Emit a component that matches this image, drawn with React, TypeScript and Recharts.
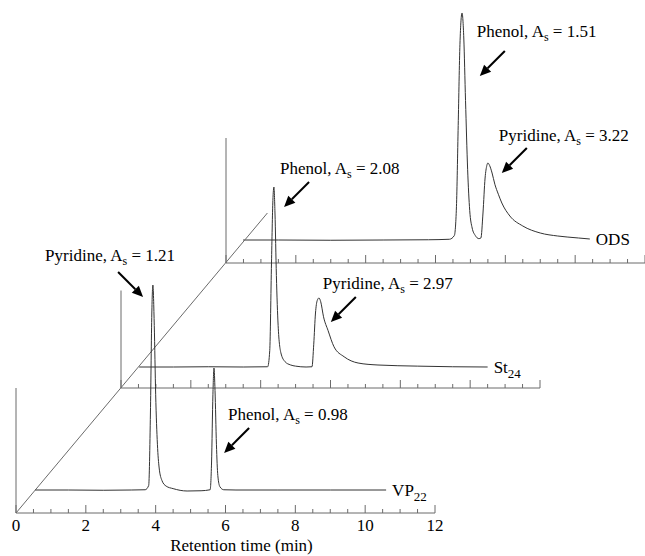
import React from 'react';
import { LineChart, Line, XAxis, YAxis, ReferenceLine, ReferenceDot } from 'recharts';

// retention time (min) / detector signal (mAU above each trace's own axis)
const VP22_TIME = [0.55, 1.5, 2.5, 3.3, 3.7, 3.8, 3.85, 3.89, 3.92, 3.96, 4.0, 4.05, 4.1, 4.18, 4.3, 4.5, 4.9, 5.3, 5.56, 5.6, 5.64, 5.67, 5.7, 5.74, 5.78, 5.84, 5.95, 6.3, 7.5, 9.0, 10.6];
const VP22_SIGNAL = [18.4, 18.4, 18.2, 18.4, 18.6, 22, 80, 160, 182.4, 150, 95, 55, 36, 26, 21.5, 19.5, 17.6, 17.8, 18.6, 40, 95, 116, 98, 55, 30, 21, 18.6, 18.4, 18.4, 18.4, 18.4];

const ST24_TIME = [0.52, 1.5, 2.5, 3.5, 4.2, 4.26, 4.31, 4.35, 4.38, 4.41, 4.45, 4.5, 4.58, 4.7, 4.85, 5.0, 5.3, 5.47, 5.52, 5.57, 5.62, 5.67, 5.72, 5.8, 5.93, 6.1, 6.39, 6.79, 7.36, 8.5, 9.5, 10.5];
const ST24_SIGNAL = [16.8, 16.8, 17.0, 16.8, 17, 30, 100, 150, 160.8, 140, 90, 50, 28, 21, 18.5, 17.5, 16.8, 17, 35, 60, 70, 72, 69, 57, 46, 33, 25, 20, 18.4, 17.5, 17.0, 16.8];

const ODS_TIME = [0.49, 1.5, 3.0, 4.5, 5.8, 6.4, 6.54, 6.6, 6.65, 6.7, 6.76, 6.81, 6.86, 6.92, 6.98, 7.05, 7.14, 7.24, 7.3, 7.36, 7.42, 7.47, 7.5, 7.55, 7.62, 7.7, 7.8, 7.9, 8.13, 8.5, 9.0, 9.5, 9.77, 10.1, 10.42];
const ODS_SIGNAL = [18.4, 18.4, 18.2, 18.4, 18.6, 19, 22, 45, 110, 175, 200, 180, 130, 75, 42, 28, 22, 19.5, 20, 40, 68, 78, 80, 78, 72, 63, 55, 48, 37.6, 29.6, 24, 21.6, 20.8, 20, 19.2];

const X_TICKS = [0, 0.5, 1, 1.5, 2, 2.5, 3, 3.5, 4, 4.5, 5, 5.5, 6, 6.5, 7, 7.5, 8, 8.5, 9, 9.5, 10, 10.5, 11, 11.5, 12];
const X_LABELS = [0, 2, 4, 6, 8, 10, 12];

// peak labels: compound, asymmetry factor, arrow tip (min, mAU)
const VP22_NOTES = [
  { compound: 'Pyridine', as: '1.21', tip: [3.64, 172.8], dir: 'right', textDx: -73, textDy: -17 },
  { compound: 'Phenol', as: '0.98', tip: [5.96, 48], dir: 'left', textDx: -21, textDy: -14 },
];
const ST24_NOTES = [
  { compound: 'Phenol', as: '2.08', tip: [4.67, 144.8], dir: 'left', textDx: -29, textDy: -14 },
  { compound: 'Pyridine', as: '2.97', tip: [6.01, 52.8], dir: 'left', textDx: -33, textDy: -14 },
];
const ODS_NOTES = [
  { compound: 'Phenol', as: '1.51', tip: [7.27, 149.6], dir: 'left', textDx: -28, textDy: -20 },
  { compound: 'Pyridine', as: '3.22', tip: [7.9, 72], dir: 'left', textDx: -28, textDy: -13 },
];

const FONT = "'Liberation Serif', 'Times New Roman', Times, serif";
const TEXT_STYLE = { fontFamily: FONT, fontSize: 17, fill: '#000' };
const AXIS_COLOR = '#6b6b6b';
const TRACE_COLOR = '#333';

const PX_PER_MIN = 419 / 12;
const PX_PER_UNIT = 1.25;
const PLOT_H = 310;
const Y_MAX = PLOT_H / PX_PER_UNIT;
const MARGIN = { top: 5, right: 35, bottom: 0, left: 16 };
const CHART_W = 470;
const AXIS_H = 44;
const CHART_H = MARGIN.top + PLOT_H + AXIS_H;
const BASE_TOP = 513 - PLOT_H - MARGIN.top;
// each trace is shifted back along the depth axis by 3 min / 100 mAU
const DEPTH_MIN = 3;
const DEPTH_UNITS = 100;

const TRACES = [
  { id: 'ods', name: 'ODS', sub: '', time: ODS_TIME, signal: ODS_SIGNAL, notes: ODS_NOTES, depth: 2, yAxisLen: 100 },
  { id: 'st24', name: 'St', sub: '24', time: ST24_TIME, signal: ST24_SIGNAL, notes: ST24_NOTES, depth: 1, yAxisLen: 78 },
  { id: 'vp22', name: 'VP', sub: '22', time: VP22_TIME, signal: VP22_SIGNAL, notes: VP22_NOTES, depth: 0, yAxisLen: 100 },
];

const makeTick = (showLabels: boolean) => (props: any) => {
  const { x, y, payload } = props;
  const major = X_LABELS.includes(payload.value);
  return (
    <g>
      <line x1={x} x2={x} y1={y} y2={y - (major ? 8 : 4)} stroke={AXIS_COLOR} />
      {showLabels && major && (
        <text x={x} y={y + 18} textAnchor="middle" style={TEXT_STYLE}>
          {payload.value}
        </text>
      )}
    </g>
  );
};

const renderTitle = (props: any) => {
  const vb = props.viewBox;
  return (
    <text x={vb.x + vb.width / 2 + 16} y={vb.y + 38} textAnchor="middle" style={TEXT_STYLE}>
      Retention time (min)
    </text>
  );
};

function Callout({ cx, cy, note }: any) {
  const tailX = cx + (note.dir === 'left' ? 25 : -25);
  const tailY = cy - 25;
  const len = Math.hypot(cx - tailX, cy - tailY);
  const ux = (cx - tailX) / len;
  const uy = (cy - tailY) / len;
  const bx = cx - ux * 11;
  const by = cy - uy * 11;
  const px = -uy * 5;
  const py = ux * 5;
  return (
    <g>
      <line x1={tailX} y1={tailY} x2={bx} y2={by} stroke="#000" strokeWidth={2} />
      <polygon points={`${cx},${cy} ${bx + px},${by + py} ${bx - px},${by - py}`} fill="#000" />
      <text x={tailX + note.textDx} y={tailY + note.textDy + 6} style={{ ...TEXT_STYLE, whiteSpace: 'pre' }}>
        {`${note.compound}, A`}
        <tspan dy={4} style={{ fontSize: 12 }}>s</tspan>
        <tspan dy={-4}>{` = ${note.as}`}</tspan>
      </text>
    </g>
  );
}

function TraceChart({ trace }: any) {
  const data = trace.time.map((t: number, i: number) => ({ t, v: trace.signal[i] }));
  const last = data[data.length - 1];
  const bottom = trace.depth === 0;
  return (
    <div style={{ position: 'absolute', left: trace.depth * DEPTH_MIN * PX_PER_MIN, top: BASE_TOP - trace.depth * DEPTH_UNITS * PX_PER_UNIT }}>
      <LineChart width={CHART_W} height={CHART_H} data={data} margin={MARGIN} style={{ overflow: 'visible' }}>
        <XAxis
          dataKey="t"
          type="number"
          domain={[0, 12]}
          ticks={X_TICKS}
          interval={0}
          tickSize={0}
          tickMargin={0}
          height={AXIS_H}
          axisLine={{ stroke: AXIS_COLOR }}
          tickLine={false}
          tick={makeTick(bottom)}
          label={bottom ? renderTitle : undefined}
        />
        <YAxis hide type="number" domain={[0, Y_MAX]} />
        <ReferenceLine segment={[{ x: 0, y: 0 }, { x: 0, y: trace.yAxisLen }]} stroke={AXIS_COLOR} />
        {bottom && (
          <ReferenceLine
            segment={[{ x: 0, y: 0 }, { x: DEPTH_MIN * 2.4, y: DEPTH_UNITS * 2.4 }]}
            stroke={AXIS_COLOR}
          />
        )}
        <Line type="monotone" dataKey="v" stroke={TRACE_COLOR} strokeWidth={1} dot={false} isAnimationActive={false} />
        {trace.notes.map((note: any, i: number) => (
          <ReferenceDot
            key={i}
            x={note.tip[0]}
            y={note.tip[1]}
            r={0}
            shape={(p: any) => <Callout cx={p.cx} cy={p.cy} note={note} />}
          />
        ))}
        <ReferenceDot
          x={last.t}
          y={last.v}
          r={0}
          shape={(p: any) => (
            <text x={p.cx + 6} y={p.cy + 6} style={TEXT_STYLE}>
              {trace.name}
              {trace.sub && <tspan dy={5} style={{ fontSize: 13 }}>{trace.sub}</tspan>}
            </text>
          )}
        />
      </LineChart>
    </div>
  );
}

export default function App() {
  return (
    <div style={{ position: 'absolute', left: 0, top: 0, width: 645, height: 556, overflow: 'hidden', background: '#fff' }}>
      {TRACES.map((tr) => (
        <TraceChart key={tr.id} trace={tr} />
      ))}
    </div>
  );
}
